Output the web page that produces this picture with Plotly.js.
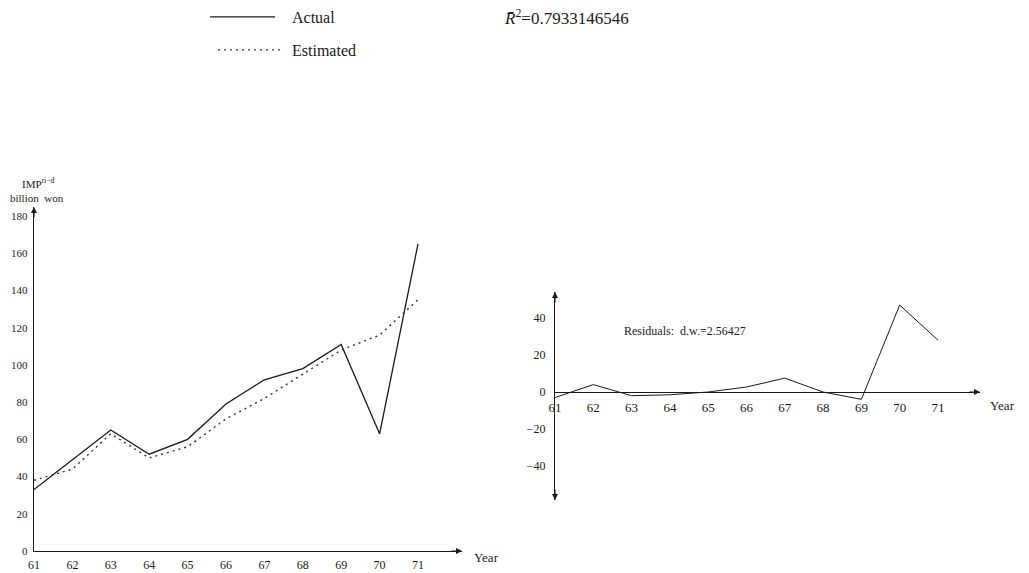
<!DOCTYPE html>
<html>
<head>
<meta charset="utf-8">
<script src="https://cdn.plot.ly/plotly-3.0.1.min.js"></script>
<style>html,body{margin:0;padding:0;background:#fff;}#chart{width:1029px;height:573px;}</style>
</head>
<body>
<div id="chart"></div>
<script>
// ---- data ----
const years = [61, 62, 63, 64, 65, 66, 67, 68, 69, 70, 71];
const yearLabels = ["61", "62", "63", "64", "65", "66", "67", "68", "69", "70", "71"];
const actual = [33, 49, 65, 52, 60, 79, 92, 98, 111, 63, 165];
const estimated = [38, 44, 63, 50, 56, 71, 82, 95, 108, 116, 135];
const residuals = [-3, 4, -2, -1.5, 0, 2.7, 7.5, 0, -4, 47, 28];
const impTicks = [0, 20, 40, 60, 80, 100, 120, 140, 160, 180];
const resTicks = [-40, -20, 0, 20, 40];
const resTickText = ["\u221240", "\u221220", "0", "20", "40"];
const seriesNames = ["Actual", "Estimated"];
const r2Text = "<i>R\u0304</i><sup>2</sup>=0.7933146546";
const dwText = "Residuals:  d.w.=2.56427";

const W = 1029, H = 573;
const px = v => v / W;
const py = v => 1 - v / H;
const FONT = "Liberation Serif, DejaVu Serif, serif";
const INK = "#1a1a1a";
const PAD = "\u00a0\u00a0\u00a0";

const traces = [
  {x: years, y: actual, type: "scatter", mode: "lines", name: PAD + seriesNames[0],
   line: {color: INK, width: 1.3}, xaxis: "x", yaxis: "y", legend: "legend"},
  {x: years, y: estimated, type: "scatter", mode: "lines", name: "\u00a0" + seriesNames[1],
   line: {color: "#333", width: 1.4, dash: "2px,4px"}, xaxis: "x", yaxis: "y", legend: "legend2"},
  {x: years, y: residuals, type: "scatter", mode: "lines", name: "Residuals",
   line: {color: INK, width: 1}, xaxis: "x2", yaxis: "y2", showlegend: false}
];

const leftXMax = 61 + (462 - 34) / 38.4;
const leftYMax = (551 - 207) / 1.861;
const rightXMax = 61 + (980 - 555) / 38.3;
const rightYMax = (392 - 292) / 1.85;
const rightYMin = -(500 - 392) / 1.85;

function arrow(xref, yref, x, y, ax, ay) {
  return {xref: xref, yref: yref, x: x, y: y, ax: ax, ay: ay, text: "",
          showarrow: true, arrowhead: 2, arrowsize: 1, arrowwidth: 1.2, arrowcolor: INK};
}

const layout = {
  width: W, height: H,
  margin: {l: 0, r: 0, t: 0, b: 0},
  paper_bgcolor: "#fff", plot_bgcolor: "rgba(0,0,0,0)",
  font: {family: FONT, color: INK},
  showlegend: true,
  legend: {x: px(205), y: py(17), xanchor: "left", yanchor: "middle",
           bgcolor: "rgba(0,0,0,0)", borderwidth: 0, itemwidth: 65,
           font: {family: FONT, size: 16, color: INK}},
  legend2: {x: px(213), y: py(50), xanchor: "left", yanchor: "middle",
            bgcolor: "rgba(0,0,0,0)", borderwidth: 0, itemwidth: 65,
            font: {family: FONT, size: 16, color: INK}},
  xaxis: {domain: [px(34), px(462)], range: [61, leftXMax], anchor: "y",
          showgrid: false, zeroline: false, showline: true, linecolor: INK, linewidth: 1.2,
          tickmode: "array", tickvals: years, ticktext: yearLabels, ticks: "",
          ticklabelstandoff: 2, tickfont: {family: FONT, size: 12, color: INK}, fixedrange: true},
  yaxis: {domain: [py(551), py(207)], range: [0, leftYMax], anchor: "x",
          showgrid: false, zeroline: false, showline: true, linecolor: INK, linewidth: 1.2,
          tickmode: "array", tickvals: impTicks, ticks: "",
          ticklabelstandoff: 3, tickfont: {family: FONT, size: 11, color: INK}, fixedrange: true},
  xaxis2: {domain: [px(555), px(980)], range: [61, rightXMax], anchor: "free", position: py(392),
           showgrid: false, zeroline: false, showline: true, linecolor: INK, linewidth: 1.2,
           tickmode: "array", tickvals: years, ticktext: yearLabels, ticks: "",
           ticklabelstandoff: 3, tickfont: {family: FONT, size: 13, color: INK}, fixedrange: true},
  yaxis2: {domain: [py(500), py(292)], range: [rightYMin, rightYMax], anchor: "x2",
           showgrid: false, zeroline: false, showline: true, linecolor: INK, linewidth: 1.2,
           tickmode: "array", tickvals: resTicks, ticktext: resTickText, ticks: "",
           ticklabelstandoff: 6, tickfont: {family: FONT, size: 12, color: INK}, fixedrange: true},
  annotations: [
    {xref: "paper", yref: "paper", x: px(502), y: py(17), xanchor: "left", yanchor: "middle",
     text: r2Text, showarrow: false, font: {family: FONT, size: 17, color: INK}},
    {xref: "paper", yref: "paper", x: px(20), y: py(183), xanchor: "left", yanchor: "middle",
     text: "IMP<sup>ri\u2212d</sup>", showarrow: false, font: {family: FONT, size: 11, color: INK}},
    {xref: "paper", yref: "paper", x: px(8), y: py(198), xanchor: "left", yanchor: "middle",
     text: "billion  won", showarrow: false, font: {family: FONT, size: 11, color: INK}},
    {xref: "paper", yref: "paper", x: px(472), y: py(557), xanchor: "left", yanchor: "middle",
     text: "Year", showarrow: false, font: {family: FONT, size: 13, color: INK}},
    {xref: "paper", yref: "paper", x: px(988), y: py(405), xanchor: "left", yanchor: "middle",
     text: "Year", showarrow: false, font: {family: FONT, size: 13, color: INK}},
    {xref: "paper", yref: "paper", x: px(622), y: py(331), xanchor: "left", yanchor: "middle",
     text: dwText, showarrow: false, font: {family: FONT, size: 12, color: INK}},
    arrow("x", "y", 61, leftYMax, 0, 12),
    arrow("x", "y", leftXMax, 0, -12, 0),
    arrow("x2", "y2", 61, rightYMax, 0, 12),
    arrow("x2", "y2", 61, rightYMin, 0, -12),
    arrow("x2", "y2", rightXMax, 0, -12, 0)
  ]
};

Plotly.newPlot("chart", traces, layout, {staticPlot: true, displayModeBar: false});
</script>
</body>
</html>
